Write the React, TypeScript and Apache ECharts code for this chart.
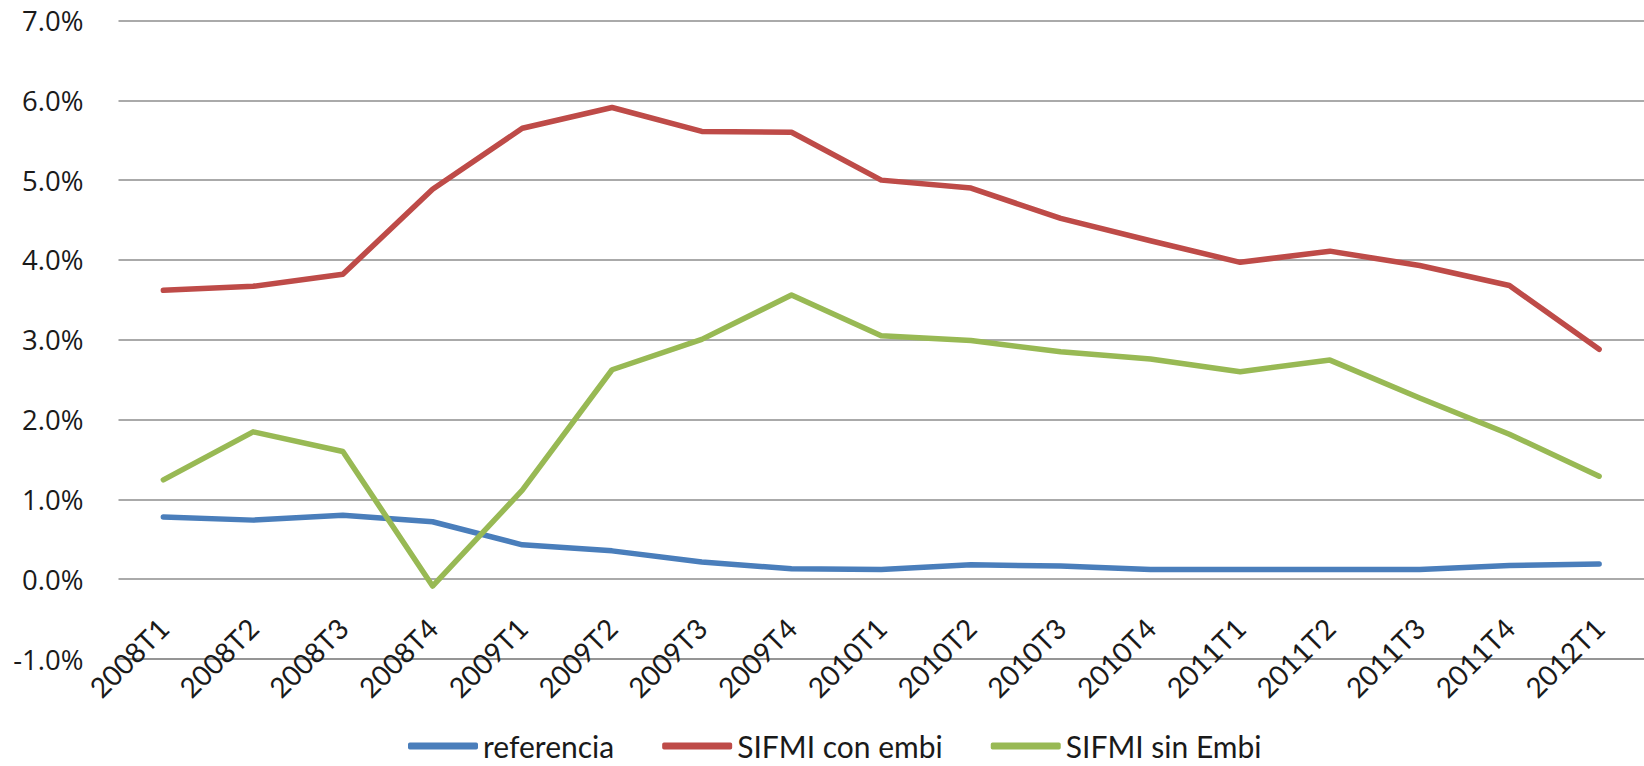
import React, { useEffect, useRef } from "react";
import * as echarts from "echarts";

const categories = [
  "2008T1", "2008T2", "2008T3", "2008T4",
  "2009T1", "2009T2", "2009T3", "2009T4",
  "2010T1", "2010T2", "2010T3", "2010T4",
  "2011T1", "2011T2", "2011T3", "2011T4",
  "2012T1",
];

const referencia = [0.78, 0.74, 0.8, 0.72, 0.43, 0.355, 0.215, 0.13, 0.12, 0.18, 0.165, 0.12, 0.12, 0.12, 0.12, 0.17, 0.19];
const sifmiConEmbi = [3.62, 3.67, 3.82, 4.885, 5.65, 5.91, 5.61, 5.6, 5.0, 4.9, 4.52, 4.24, 3.97, 4.11, 3.93, 3.68, 2.88];
const sifmiSinEmbi = [1.245, 1.846, 1.6, -0.086, 1.115, 2.624, 3.005, 3.56, 3.05, 2.99, 2.85, 2.76, 2.6, 2.745, 2.27, 1.816, 1.29];

const seriesNames = ["referencia", "SIFMI con embi", "SIFMI sin Embi"];
const seriesColors = ["#4A7EBB", "#BE4B48", "#98B954"];

const yMin = -1;
const yMax = 7;
const yInterval = 1;

export default function App() {
  const ref = useRef<HTMLDivElement>(null);

  useEffect(() => {
    if (!ref.current) return;
    const chart = echarts.init(ref.current, null, { renderer: "svg" });
    const datasets = [referencia, sifmiConEmbi, sifmiSinEmbi];
    chart.setOption({
      animation: false,
      backgroundColor: "#ffffff",
      grid: { left: 118.5, top: 20.5, width: 1528.5, height: 638.5, containLabel: false },
      legend: {
        data: seriesNames.map((n) => ({ name: n, icon: "roundRect" })),
        left: 408,
        top: 731,
        padding: 0,
        itemWidth: 70,
        itemHeight: 7,
        itemGap: 48,
        textStyle: { fontFamily: "Lato", fontSize: 30, color: "#1a1a1a", lineHeight: 27 },
      },
      xAxis: {
        type: "category",
        data: categories,
        boundaryGap: true,
        axisLine: { show: true, onZero: false, lineStyle: { color: "#8e8e8e", width: 1.5 } },
        axisTick: { show: false },
        splitLine: { show: false },
        axisLabel: {
          interval: 0,
          rotate: 45,
          margin: -36,
          fontFamily: "Lato",
          fontSize: 28,
          color: "#1a1a1a",
        },
      },
      yAxis: {
        type: "value",
        min: yMin,
        max: yMax,
        interval: yInterval,
        axisLine: { show: false },
        axisTick: { show: false },
        splitLine: { show: true, lineStyle: { color: "#8e8e8e", width: 1.5 } },
        axisLabel: {
          margin: 35,
          fontFamily: "Open Sans",
          fontSize: 27.5,
          color: "#1a1a1a",
          formatter: (v: number) => `${v.toFixed(1)}%`,
        },
      },
      series: datasets.map((d, i) => ({
        name: seriesNames[i],
        type: "line",
        data: d,
        symbol: "none",
        color: seriesColors[i],
        lineStyle: { color: seriesColors[i], width: 5.5, cap: "round", join: "round" },
      })),
    });
    return () => chart.dispose();
  }, []);

  return (
    <div
      ref={ref}
      style={{ position: "fixed", left: 0, top: 0, width: 1644, height: 766, background: "#fff" }}
    />
  );
}
